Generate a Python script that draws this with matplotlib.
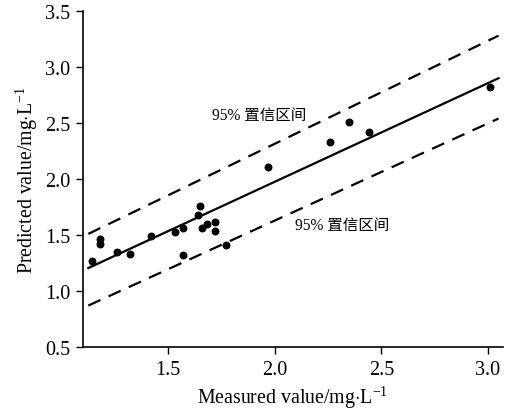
import matplotlib as mpl
mpl.use('Agg')
import matplotlib.pyplot as plt

plt.rcParams['font.family'] = ['Liberation Serif', 'Noto Sans CJK SC']
plt.rcParams['mathtext.fontset'] = 'custom'
plt.rcParams['mathtext.rm'] = 'Liberation Serif'

# measured vs predicted points
measured = [1.14, 1.18, 1.18, 1.26, 1.32, 1.42, 1.53, 1.57, 1.57, 1.64, 1.65,
            1.66, 1.68, 1.72, 1.72, 1.77, 1.97, 2.26, 2.35, 2.44, 3.01]
predicted = [1.27, 1.46, 1.42, 1.35, 1.33, 1.49, 1.53, 1.56, 1.32, 1.68, 1.76,
             1.56, 1.60, 1.62, 1.54, 1.41, 2.11, 2.33, 2.51, 2.42, 2.82]

# regression line and 95% band (end points)
line_x = [1.125, 3.05]
fit_y = [1.205, 2.90]
upper_y = [1.51, 3.28]
lower_y = [0.87, 2.54]

band_label = '95% 置信区间'
xticks = [1.5, 2.0, 2.5, 3.0]
yticks = [0.5, 1.0, 1.5, 2.0, 2.5, 3.0, 3.5]

fig = plt.figure(figsize=(5.11, 4.14), dpi=100)
ax = fig.add_axes([0.1624, 0.1594, 0.8216, 0.8116])

ax.plot(line_x, fit_y, color='black', lw=1.6)
ax.plot(line_x, upper_y, color='black', lw=1.6, linestyle=(0, (6, 4)))
ax.plot(line_x, lower_y, color='black', lw=1.6, linestyle=(0, (6, 4)))
ax.scatter(measured, predicted, s=22, color='black', zorder=3)

ax.text(1.706, 2.57, band_label, fontsize=11.2, va='center', ha='left')
ax.text(2.095, 1.59, band_label, fontsize=11.2, va='center', ha='left')

ax.set_xlim(1.1, 3.07)
ax.set_ylim(0.5, 3.5)
ax.set_xticks(xticks)
ax.set_xticklabels(['%.1f' % v for v in xticks])
ax.set_yticks(yticks)
ax.set_yticklabels(['%.1f' % v for v in yticks])
ax.tick_params(direction='out', length=5, width=1, labelsize=14.5, pad=4)

for s in ['top', 'right']:
    ax.spines[s].set_visible(False)
for s in ['left', 'bottom']:
    ax.spines[s].set_linewidth(1.2)

ax.set_xlabel(r'Measured value/mg$\cdot$L$^{-1}$', fontsize=14.3, labelpad=3)
ax.set_ylabel(r'Predicted value/mg$\cdot$L$^{-1}$', fontsize=14.3, labelpad=4)

plt.savefig('out.png', dpi=100)
